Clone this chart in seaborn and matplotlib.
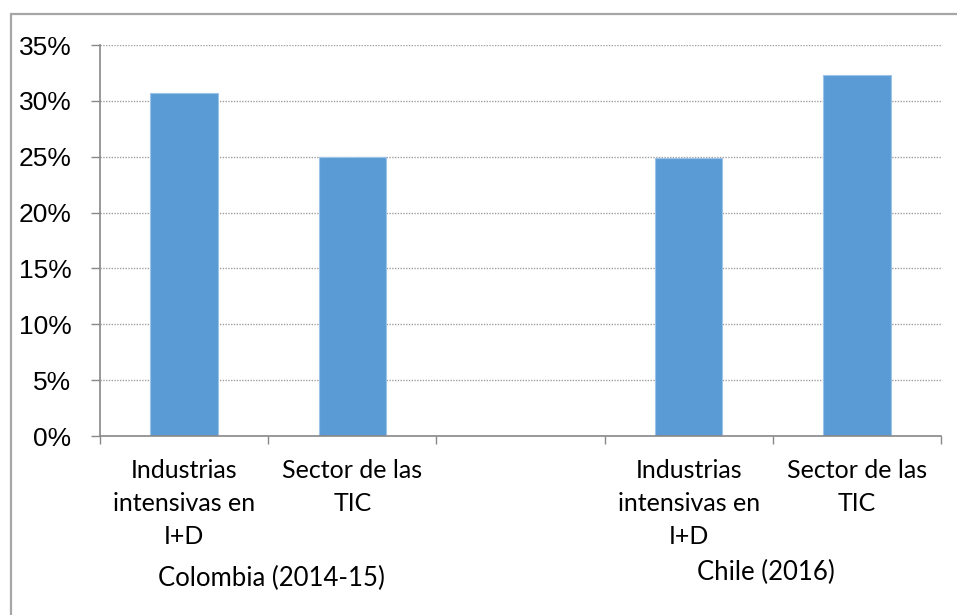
import matplotlib
matplotlib.use("Agg")
import matplotlib.pyplot as plt
from matplotlib.patches import Rectangle
from matplotlib.ticker import FuncFormatter, FixedLocator
import seaborn as sns
import pandas as pd

# Share of firms, by sector group and country
slots = ["col_id", "col_tic", "gap", "chl_id", "chl_tic"]
slot_labels = ["Industrias\nintensivas en\nI+D", "Sector de las\nTIC", "",
               "Industrias\nintensivas en\nI+D", "Sector de las\nTIC"]
shares = [0.307, 0.250, None, 0.249, 0.323]
groups = ["Colombia (2014-15)", "Chile (2016)"]
yticks = [0.0, 0.05, 0.10, 0.15, 0.20, 0.25, 0.30, 0.35]

df = pd.DataFrame({"slot": slots, "share": shares})

sns.set_theme(style="white")
W, H = 957, 615
fig = plt.figure(figsize=(W / 100, H / 100), dpi=100)
ax = fig.add_axes([100 / W, 1 - 436 / H, 841 / W, 391 / H])

bar_color = "#5b9bd5"
sns.barplot(data=df, x="slot", y="share", order=slots, width=0.4,
            color=bar_color, saturation=1, edgecolor="#9dc3e6",
            linewidth=0.8, ax=ax, errorbar=None)

ax.set_xlim(-0.5, len(slots) - 0.5)
ax.set_ylim(0, 0.35)
ax.set_yticks(yticks)
ax.yaxis.set_major_formatter(FuncFormatter(lambda v, _: f"{v * 100:.0f}%"))
ax.yaxis.grid(True, linestyle=(0, (1, 1)), color="#a0a0a0", linewidth=1)
ax.set_axisbelow(True)

# slot boundaries carry the tick marks
ax.xaxis.set_major_locator(FixedLocator([i - 0.5 for i in range(len(slots) + 1)]))
ax.xaxis.set_major_formatter(FuncFormatter(lambda v, _: ""))
ax.tick_params(axis="x", which="major", bottom=True, length=5.8, width=1.0,
               color="#888888", direction="out")
ax.tick_params(axis="y", left=True, length=6.5, width=1.0, color="#888888",
               direction="out", pad=14)

# category names centred under each slot, one text per line
line_step = 33 * 72 / 100  # points between baselines
for i, text in enumerate(slot_labels):
    for j, line in enumerate(text.split("\n")):
        if not line:
            continue
        ax.annotate(line, xy=(i, 0), xycoords=("data", "axes fraction"),
                    xytext=(0, -30.2 - j * line_step),
                    textcoords="offset points",
                    ha="center", va="baseline", fontfamily="Lato",
                    fontsize=18, color="#000000")

for lab in ax.get_yticklabels():
    lab.set_fontfamily("Liberation Sans")
    lab.set_fontsize(19)
    lab.set_color("#000000")

ax.set_xlabel("")
ax.set_ylabel("")
for side in ["top", "right"]:
    ax.spines[side].set_visible(False)
for side in ["left", "bottom"]:
    ax.spines[side].set_color("#888888")
    ax.spines[side].set_linewidth(1.2)

# country group captions under the category labels
fig.text(271 / W, 1 - 578 / H, groups[0], ha="center", va="center",
         fontfamily="Lato", fontsize=18.5, color="#000000")
fig.text(766 / W, 1 - 572 / H, groups[1], ha="center", va="center",
         fontfamily="Lato", fontsize=18.5, color="#000000")

# chart frame
fig.patches.append(Rectangle((11 / W, -0.05), 1.1, 1 - 14 / H + 0.05,
                             transform=fig.transFigure, fill=False,
                             edgecolor="#a6a6a6", linewidth=1.6))

fig.savefig("out.png", dpi=100)
